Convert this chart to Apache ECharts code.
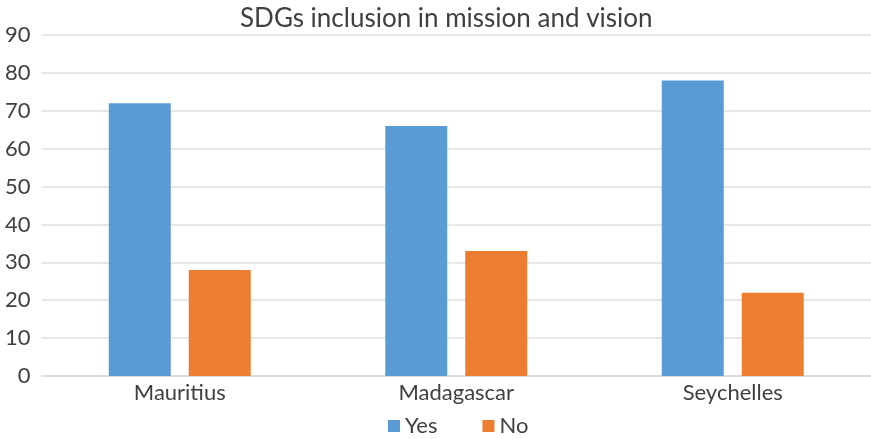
<!DOCTYPE html>
<html>
<head>
<meta charset="utf-8">
<script src="https://cdn.jsdelivr.net/npm/echarts@6/dist/echarts.min.js"></script>
<style>html,body{margin:0;padding:0;background:#fff}#c{width:871px;height:439px}</style>
</head>
<body>
<div id="c"></div>
<script>
const categories = ['Mauritius', 'Madagascar', 'Seychelles'];
const yesValues = [72, 66, 78];
const noValues = [28, 33, 22];
const yTicks = { min: 0, max: 90, interval: 10 };

const chart = echarts.init(document.getElementById('c'), null, { renderer: 'canvas' });
const font = 'Lato, "Open Sans", sans-serif';
chart.setOption({
  animation: false,
  title: {
    text: 'SDGs inclusion in mission and vision',
    left: 235, top: 1,
    textStyle: { fontFamily: font, fontSize: 26, fontWeight: 'normal', color: '#404040' }
  },
  legend: {
    top: 410, left: 383,
    itemWidth: 12, itemHeight: 12, itemGap: 45,
    icon: 'rect',
    textStyle: { fontFamily: font, fontSize: 22, color: '#404040' },
    data: ['Yes', 'No']
  },
  grid: { left: 41.5, width: 834, top: 35, bottom: 63, containLabel: false },
  xAxis: {
    type: 'category', data: categories,
    axisLine: { lineStyle: { color: '#d9d9d9', width: 1.5 } },
    axisTick: { show: false },
    axisLabel: { fontFamily: font, fontSize: 22, color: '#404040', margin: 6 }
  },
  yAxis: {
    type: 'value', min: yTicks.min, max: yTicks.max, interval: yTicks.interval,
    axisLine: { show: false }, axisTick: { show: false },
    splitLine: { lineStyle: { color: '#e0e0e0', width: 1.5 } },
    axisLabel: { fontFamily: font, fontSize: 22, color: '#404040', margin: 11 }
  },
  series: [
    { name: 'Yes', type: 'bar', data: yesValues, barWidth: 62, barGap: '29%', itemStyle: { color: '#5b9bd5' } },
    { name: 'No', type: 'bar', data: noValues, barWidth: 62, itemStyle: { color: '#ed7d31' } }
  ]
});
</script>
</body>
</html>
